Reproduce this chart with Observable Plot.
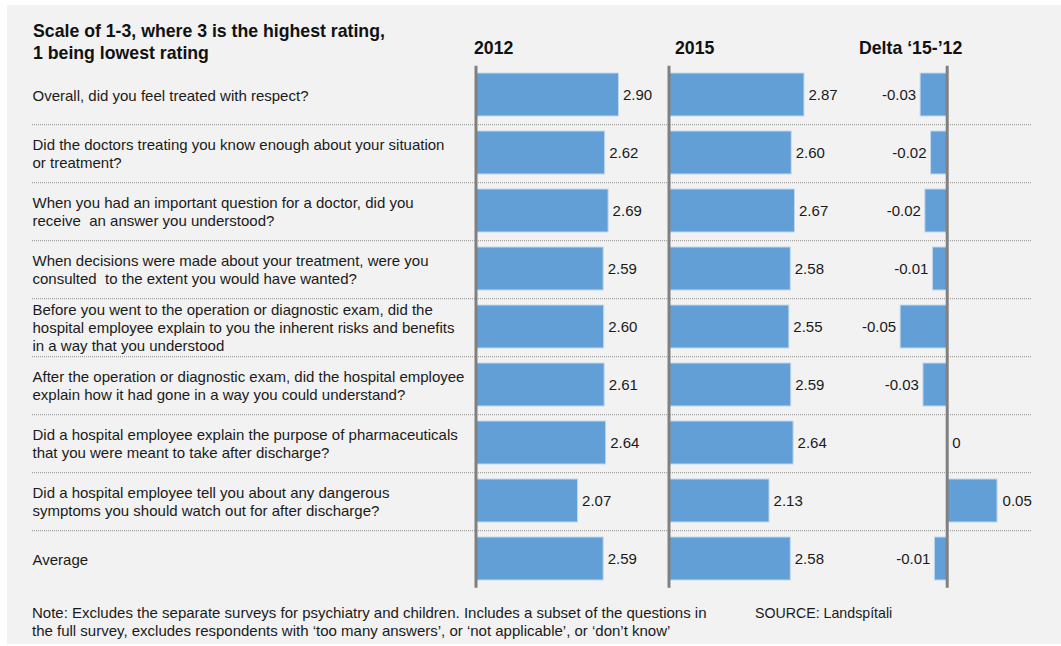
<!DOCTYPE html>
<html>
<head>
<meta charset="utf-8">
<script src="https://cdn.jsdelivr.net/npm/d3@7"></script>
<script src="https://cdn.jsdelivr.net/npm/@observablehq/plot@0.6"></script>
<style>
  html, body { margin: 0; padding: 0; background: #ffffff; }
  body { font-family: "Liberation Sans", Arial, sans-serif; color: #1a1a1a; }
  #wrap { position: relative; width: 1061px; height: 646px; overflow: hidden; }
  #bg { position: absolute; left: 7px; top: 5px; width: 1054px; height: 639px; background: #f2f2f2; }
  .layer { position: absolute; left: 0; top: 0; }
  .layer svg { overflow: visible; }
  #title { position: absolute; left: 33px; top: 21px; font-weight: bold; font-size: 17.7px; line-height: 21.5px; color: #111; white-space: nowrap; }
  .hdr { position: absolute; top: 39px; font-weight: bold; font-size: 17.7px; line-height: 18px; color: #111; white-space: nowrap; }
  #note { position: absolute; left: 32px; top: 604px; font-size: 15px; line-height: 18px; color: #1a1a1a; white-space: nowrap; }
  #source { position: absolute; left: 755px; top: 604px; font-size: 14.2px; line-height: 18px; color: #1a1a1a; white-space: nowrap; }
</style>
</head>
<body>
<div id="wrap">
  <div id="bg"></div>
  <div id="title">Scale of 1-3, where 3 is the highest rating,<br>1 being lowest rating</div>
  <div class="hdr" id="h1" style="left:474px">2012</div>
  <div class="hdr" id="h2" style="left:675px">2015</div>
  <div class="hdr" id="h3" style="left:859px">Delta ‘15-’12</div>
  <div id="note">Note: Excludes the separate surveys for psychiatry and children. Includes a subset of the questions in<br>the full survey, excludes respondents with ‘too many answers’, or ‘not applicable’, or ‘don’t know’</div>
  <div id="source">SOURCE: Landspítali</div>
</div>
<script>
// ---- Data ----
const questions = [
  "Overall, did you feel treated with respect?",
  "Did the doctors treating you know enough about your situation\nor treatment?",
  "When you had an important question for a doctor, did you\nreceive  an answer you understood?",
  "When decisions were made about your treatment, were you\nconsulted  to the extent you would have wanted?",
  "Before you went to the operation or diagnostic exam, did the\nhospital employee explain to you the inherent risks and benefits\nin a way that you understood",
  "After the operation or diagnostic exam, did the hospital employee\nexplain how it had gone in a way you could understand?",
  "Did a hospital employee explain the purpose of pharmaceuticals\nthat you were meant to take after discharge?",
  "Did a hospital employee tell you about any dangerous\nsymptoms you should watch out for after discharge?",
  "Average"
];
const values2012 = [2.90, 2.62, 2.69, 2.59, 2.60, 2.61, 2.64, 2.07, 2.59];
const values2015 = [2.87, 2.60, 2.67, 2.58, 2.55, 2.59, 2.64, 2.13, 2.58];
const deltaValues = [-0.028, -0.017, -0.023, -0.015, -0.049, -0.025, 0, 0.053, -0.013];
const deltaLabels = ["-0.03", "-0.02", "-0.02", "-0.01", "-0.05", "-0.03", "0", "0.05", "-0.01"];
const headers = ["2012", "2015", "Delta ‘15-’12"];

const rows = questions.map((q, i) => ({
  q, v12: values2012[i], v15: values2015[i], d: deltaValues[i], dl: deltaLabels[i]
}));

// ---- Styling ----
const FONT = '"Liberation Sans", Arial, sans-serif';
const BAR = "#629fd6";
const BAR_STROKE = "#c3d8ee";
const AXIS = "#808080";
const TXT = "#1a1a1a";
const FS = 15;
const W = 1061, H = 646;
const common = {
  width: W, height: H, marginTop: 65.8, marginBottom: 58.2,
  style: { fontFamily: FONT, fontSize: FS + "px", background: "transparent", color: TXT, overflow: "visible" }
};
const yOpts = { domain: questions, paddingInner: 0.26, paddingOuter: 0.13, axis: null };
const wrap = document.getElementById("wrap");
function add(svg) {
  const d = document.createElement("div");
  d.className = "layer";
  d.appendChild(svg);
  wrap.appendChild(d);
}

// base layer: dotted separators + question labels
add(Plot.plot({
  ...common,
  marginLeft: 32, marginRight: 29,
  y: yOpts,
  marks: [
    Plot.ruleY(questions.slice(0, -1), { y: d => d, dy: 29.2, stroke: "#8f8f8f", strokeWidth: 1, strokeDasharray: "1,1" }),
    Plot.text(questions, { y: d => d, text: d => d, frameAnchor: "left", textAnchor: "start", lineHeight: 1.2, fontSize: FS, fill: TXT })
  ]
}));

const fmt = d3.format(".2f");

// 2012 panel
add(Plot.plot({
  ...common,
  y: yOpts,
  x: { domain: [0, 3], range: [475.5, 475.5 + 3 * 49.3], axis: null },
  marks: [
    Plot.barX(rows, { x: "v12", y: "q", fill: BAR, stroke: BAR_STROKE, strokeWidth: 1 }),
    Plot.ruleX([0], { stroke: AXIS, strokeWidth: 3 }),
    Plot.text(rows, { x: "v12", y: "q", text: d => fmt(d.v12), textAnchor: "start", dx: 4, fill: TXT, fontSize: FS })
  ]
}));

// 2015 panel
add(Plot.plot({
  ...common,
  y: yOpts,
  x: { domain: [0, 3], range: [668.5, 668.5 + 3 * 47.2], axis: null },
  marks: [
    Plot.barX(rows, { x: "v15", y: "q", fill: BAR, stroke: BAR_STROKE, strokeWidth: 1 }),
    Plot.ruleX([0], { stroke: AXIS, strokeWidth: 3 }),
    Plot.text(rows, { x: "v15", y: "q", text: d => fmt(d.v15), textAnchor: "start", dx: 4, fill: TXT, fontSize: FS })
  ]
}));

// Delta panel
add(Plot.plot({
  ...common,
  y: yOpts,
  x: { domain: [-0.05, 0.05], range: [946.7 - 47.5, 946.7 + 47.5], axis: null },
  marks: [
    Plot.barX(rows.filter(d => d.d !== 0), { x: "d", y: "q", fill: BAR, stroke: BAR_STROKE, strokeWidth: 1 }),
    Plot.ruleX([0], { stroke: AXIS, strokeWidth: 3 }),
    Plot.text(rows.filter(d => d.d < 0), { x: "d", y: "q", text: "dl", textAnchor: "end", dx: -4.5, fill: TXT, fontSize: FS }),
    Plot.text(rows.filter(d => d.d >= 0), { x: "d", y: "q", text: "dl", textAnchor: "start", dx: 5, fill: TXT, fontSize: FS })
  ]
}));
</script>
</body>
</html>
